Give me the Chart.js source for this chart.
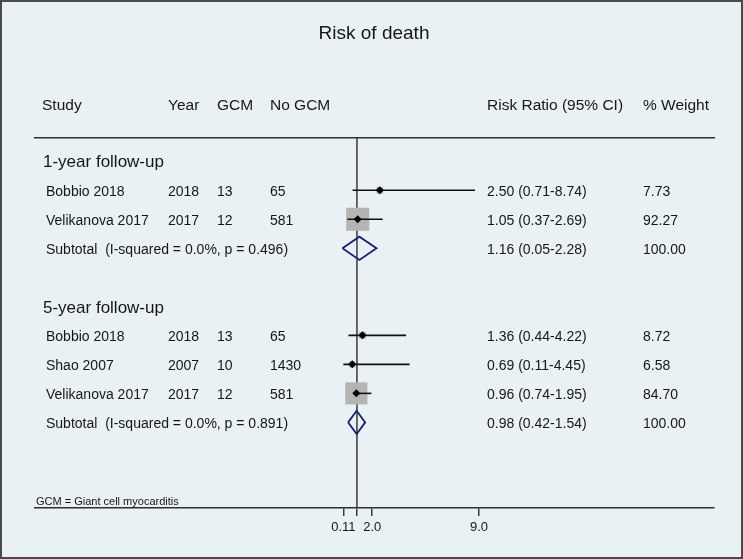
<!DOCTYPE html>
<html>
<head>
<meta charset="utf-8">
<script src="https://cdn.jsdelivr.net/npm/chart.js@4.4.1/dist/chart.umd.min.js"></script>
<style>
  html, body { margin: 0; padding: 0; background: #e9f1f5; }
  #wrap { width: 743px; height: 559px; position: relative; }
</style>
</head>
<body>
<div id="wrap"><canvas id="forest"></canvas></div>
<script>
// --- data ---
const groupTitles = ['1-year follow-up', '5-year follow-up'];
const studyGroup = [0, 0, 1, 1, 1];
const studyNames = ['Bobbio 2018', 'Velikanova 2017', 'Bobbio 2018', 'Shao 2007', 'Velikanova 2017'];
const studyYears = [2018, 2017, 2018, 2007, 2017];
const gcmCounts = [13, 12, 13, 10, 12];
const noGcmCounts = [65, 581, 65, 1430, 581];
const riskRatio = [2.50, 1.05, 1.36, 0.69, 0.96];
const ciLow = [0.71, 0.37, 0.44, 0.11, 0.74];
const ciHigh = [8.74, 2.69, 4.22, 4.45, 1.95];
const weights = [7.73, 92.27, 8.72, 6.58, 84.70];

const subtotalLabels = ['Subtotal  (I-squared = 0.0%, p = 0.496)', 'Subtotal  (I-squared = 0.0%, p = 0.891)'];
const subtotalRR = [1.16, 0.98];
const subtotalLow = [0.05, 0.42];
const subtotalHigh = [2.28, 1.54];
const subtotalWeight = [100.00, 100.00];

const xTicks = [0.11, 1, 2.0, 9.0];
const xTickLabels = ['0.11', '', '2.0', '9.0'];
const headers = ['Study', 'Year', 'GCM', 'No GCM', 'Risk Ratio (95% CI)', '% Weight'];

// --- row layout: group header, studies, subtotal, blank ---
const groupRow = [], studyRow = [], subtotalRow = [];
let r = 0;
groupTitles.forEach((g, gi) => {
    groupRow[gi] = r++;
    studyGroup.forEach((sg, i) => { if (sg === gi) studyRow[i] = r++; });
    subtotalRow[gi] = r++;
    r++;
});

const Y_MIN = -0.8, Y_MAX = 11.95;
const X_MIN = -20.1, X_MAX = 24.4;
const FONT = '"Liberation Sans", Arial, sans-serif';
const INK = '#161616';

const fmt = (v) => v.toFixed(2);

const datasets = [];

// null line
datasets.push({
    type: 'line', order: 5,
    data: [{ x: 1, y: Y_MIN }, { x: 1, y: Y_MAX }],
    borderColor: '#3a3a3a', borderWidth: 1.5, pointRadius: 0
});

// weight boxes
datasets.push({
    type: 'scatter', order: 4,
    data: riskRatio.map((v, i) => ({ x: v, y: studyRow[i] })),
    pointStyle: 'rect',
    pointRadius: weights.map(w => 2.4 * Math.sqrt(w) / (2 * Math.SQRT1_2)),
    backgroundColor: '#b4b4b4', borderWidth: 0
});

// confidence intervals
riskRatio.forEach((v, i) => {
    datasets.push({
        type: 'line', order: 2,
        data: [{ x: ciLow[i], y: studyRow[i] }, { x: ciHigh[i], y: studyRow[i] }],
        borderColor: '#111', borderWidth: 1.6, pointRadius: 0
    });
});

// point estimates
datasets.push({
    type: 'scatter', order: 1,
    data: riskRatio.map((v, i) => ({ x: v, y: studyRow[i] })),
    pointStyle: 'rectRot', pointRadius: 4,
    backgroundColor: '#000', borderWidth: 0
});

// subtotal diamonds
const halfH = 0.4;
subtotalRR.forEach((v, gi) => {
    const y = subtotalRow[gi];
    datasets.push({
        type: 'line', order: 0,
        data: [
            { x: subtotalLow[gi], y: y },
            { x: v, y: y - halfH },
            { x: subtotalHigh[gi], y: y },
            { x: v, y: y + halfH },
            { x: subtotalLow[gi], y: y }
        ],
        borderColor: '#1b2170', borderWidth: 1.8, pointRadius: 0, fill: false,
        tension: 0
    });
});

const frame = {
    id: 'frame',
    beforeDraw(chart) {
        const ctx = chart.ctx;
        ctx.save();
        ctx.fillStyle = '#e9f1f5';
        ctx.fillRect(0, 0, chart.width, chart.height);
        ctx.restore();
    },
    afterDraw(chart) {
        const ctx = chart.ctx;
        const ys = chart.scales.y;
        const dy = 1.5;
        ctx.save();
        ctx.fillStyle = INK;
        ctx.textBaseline = 'middle';

        ctx.textAlign = 'center';
        ctx.font = '19px ' + FONT;
        ctx.fillText('Risk of death', 374, 32 + dy);

        ctx.textAlign = 'left';
        ctx.font = '15.5px ' + FONT;
        const hx = [42, 168, 217, 270, 487, 643];
        headers.forEach((h, i) => ctx.fillText(h, hx[i], 104 + dy));

        ctx.font = '17px ' + FONT;
        groupTitles.forEach((g, gi) => ctx.fillText(g, 43, ys.getPixelForValue(groupRow[gi]) + dy));

        ctx.font = '14px ' + FONT;
        studyNames.forEach((s, i) => {
            const y = ys.getPixelForValue(studyRow[i]) + dy;
            ctx.fillText(s, 46, y);
            ctx.fillText(String(studyYears[i]), 168, y);
            ctx.fillText(String(gcmCounts[i]), 217, y);
            ctx.fillText(String(noGcmCounts[i]), 270, y);
            ctx.fillText(`${fmt(riskRatio[i])} (${fmt(ciLow[i])}-${fmt(ciHigh[i])})`, 487, y);
            ctx.fillText(fmt(weights[i]), 643, y);
        });
        subtotalLabels.forEach((s, gi) => {
            const y = ys.getPixelForValue(subtotalRow[gi]) + dy;
            ctx.fillText(s, 46, y);
            ctx.fillText(`${fmt(subtotalRR[gi])} (${fmt(subtotalLow[gi])}-${fmt(subtotalHigh[gi])})`, 487, y);
            ctx.fillText(fmt(subtotalWeight[gi]), 643, y);
        });

        ctx.font = '11px ' + FONT;
        ctx.fillText('GCM = Giant cell myocarditis', 36, 500 + dy);

        // outer frame
        ctx.strokeStyle = '#4a4a4a';
        ctx.lineWidth = 2;
        ctx.strokeRect(1, 1, chart.width - 2, chart.height - 2);
        ctx.restore();
    }
};

new Chart(document.getElementById('forest'), {
    data: { datasets },
    options: {
        responsive: true, maintainAspectRatio: false, animation: false,
        layout: { padding: { left: 35, right: 29, top: 138, bottom: 21 } },
        scales: {
            x: {
                type: 'linear', position: 'bottom', min: X_MIN, max: X_MAX,
                afterBuildTicks: (s) => { s.ticks = xTicks.map(v => ({ value: v })); },
                afterFit: (s) => { s.height = 30; },
                ticks: {
                    autoSkip: false, maxRotation: 0, padding: 4, color: INK,
                    font: { family: FONT, size: 13 },
                    callback: (v, i) => xTickLabels[i]
                },
                grid: { drawOnChartArea: false, drawTicks: true, tickLength: 8, color: '#3a3a3a', lineWidth: 1.5 },
                border: { display: true, color: '#2e2e2e', width: 1.5 }
            },
            xTop: {
                type: 'linear', position: 'top', min: X_MIN, max: X_MAX,
                afterFit: (s) => { s.height = 0; },
                ticks: { display: false },
                grid: { display: false },
                border: { display: true, color: '#2e2e2e', width: 1.5 }
            },
            y: { type: 'linear', display: false, reverse: true, min: Y_MIN, max: Y_MAX }
        },
        plugins: { legend: { display: false }, tooltip: { enabled: false } }
    },
    plugins: [frame]
});
</script>
</body>
</html>
